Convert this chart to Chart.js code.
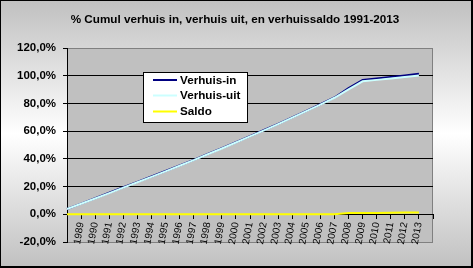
<!DOCTYPE html>
<html>
<head>
<meta charset="utf-8">
<script src="https://cdn.jsdelivr.net/npm/chart.js@4.4.1/dist/chart.umd.min.js"></script>
<style>
  html, body { margin: 0; padding: 0; background: #fff; }
</style>
</head>
<body>
<canvas id="cumulChart" width="473" height="268"></canvas>
<script>
(function () {
  "use strict";

  // categories: first point is the base, last slot is empty
  const categories = ['', '1989', '1990', '1991', '1992', '1993', '1994', '1995', '1996', '1997',
    '1998', '1999', '2000', '2001', '2002', '2003', '2004', '2005', '2006', '2007',
    '2008', '2009', '2010', '2011', '2012', '2013', ''];

  // series values (%)
  const verhuisIn  = [3.8, 7.7, 11.6, 15.6, 19.5, 23.4, 27.3, 31.2, 35.2, 39.3,
    43.5, 47.7, 52.0, 56.4, 60.8, 65.3, 69.9, 74.6, 79.4, 84.3, 91.1, 96.9, 98.0, 99.1, 100.2, 101.4];
  const verhuisUit = [3.8, 7.6, 11.4, 15.3, 19.2, 23.1, 27.0, 31.0, 35.0, 39.1,
    43.3, 47.5, 51.8, 56.2, 60.6, 65.1, 69.7, 74.4, 79.2, 84.1, 90.2, 96.0, 97.0, 98.0, 99.0, 100.2];
  const saldo      = [0.0, 0.0, 0.0, 0.0, 0.0, 0.0, 0.0, 0.0, 0.0, 0.0,
    0.0, 0.0, 0.0, 0.0, 0.0, 0.0, 0.0, 0.0, 0.0, 0.1, 0.9, 0.9, 1.0, 1.1, 1.2, 1.2];

  // y tick range
  const yMin = -20;
  const yMax = 120;
  const yStep = 20;

  const titleText = '% Cumul verhuis in, verhuis uit, en verhuissaldo 1991-2013';
  const fontFamily = '"Liberation Sans", Arial, sans-serif';

  const color_in    = '#000080';
  const color_uit   = '#ccffff';
  const color_saldo = '#ffff00';

  // background, plot area and frame
  const backdrop = {
    id: 'backdrop',
    beforeDraw(chart) {
      const c = chart.ctx;
      const w = chart.width, h = chart.height;
      const a = chart.chartArea;
      c.save();
      const g = c.createLinearGradient(0, 0, 0, h);
      g.addColorStop(0, '#c0c0c0');
      g.addColorStop(0.5, '#ffffff');
      g.addColorStop(1, '#c0c0c0');
      c.fillStyle = g;
      c.fillRect(0, 0, w, h);
      // outer frame
      c.fillStyle = '#000';
      c.fillRect(0, 0, w, 1);
      c.fillRect(0, 0, 1, h);
      c.fillRect(w - 2, 0, 2, h);
      c.fillRect(0, h - 2, w, 2);
      // plot area
      c.fillStyle = '#c0c0c0';
      c.fillRect(a.left, a.top, a.right - a.left, a.bottom - a.top);
      c.strokeStyle = '#808080';
      c.lineWidth = 1;
      c.strokeRect(a.left + 0.5, a.top + 0.5, a.right - a.left - 1, a.bottom - a.top);
      c.restore();
    }
  };

  // title and boxed legend
  const overlay = {
    id: 'overlay',
    afterDraw(chart) {
      const c = chart.ctx;
      c.save();
      c.fillStyle = '#000';
      c.font = 'bold 11.7px ' + fontFamily;
      c.textAlign = 'center';
      c.textBaseline = 'middle';
      c.fillText(titleText, 235, 20);

      // legend box
      const bx = 143, by = 72, bw = 104, bh = 50;
      c.fillStyle = '#fff';
      c.fillRect(bx, by, bw, bh);
      c.strokeStyle = '#000';
      c.lineWidth = 1;
      c.strokeRect(bx + 0.5, by + 0.5, bw, bh);
      const rows = [80, 95.5, 111.5];
      chart.data.datasets.forEach(function (ds, i) {
        c.strokeStyle = ds.borderColor;
        c.lineWidth = 2;
        c.beginPath();
        c.moveTo(153, rows[i]);
        c.lineTo(177, rows[i]);
        c.stroke();
        c.fillStyle = '#000';
        c.textAlign = 'left';
        c.fillText(ds.label, 180, rows[i] + 0.5);
      });
      c.restore();
    }
  };

  const ctx = document.getElementById('cumulChart').getContext('2d');
  new Chart(ctx, {
    type: 'line',
    data: {
      labels: categories,
      datasets: [{
        label: 'Verhuis-in',
        data: verhuisIn,
        borderColor: color_in,
        borderWidth: 2,
        pointRadius: 0,
        tension: 0,
        order: 2
      },
      {
        label: 'Verhuis-uit',
        data: verhuisUit,
        borderColor: color_uit,
        borderWidth: 2,
        pointRadius: 0,
        tension: 0,
        order: 1
      },
      {
        label: 'Saldo',
        data: saldo,
        borderColor: color_saldo,
        borderWidth: 2,
        pointRadius: 0,
        tension: 0,
        order: 0
      }]
    },
    options: {
      responsive: false,
      animation: false,
      events: [],
      layout: {
        padding: { top: 48, right: 40, bottom: 26, left: 0 }
      },
      plugins: {
        legend: { display: false },
        tooltip: { enabled: false },
        title: { display: false }
      },
      scales: {
        x: {
          type: 'category',
          position: { y: 0 },
          offset: false,
          grid: {
            drawOnChartArea: false,
            drawTicks: true,
            tickLength: 4,
            tickColor: '#000'
          },
          border: { color: '#000' },
          ticks: {
            autoSkip: false,
            minRotation: 80,
            maxRotation: 80,
            padding: 3,
            color: '#000',
            font: { family: fontFamily, size: 10 }
          }
        },
        y: {
          min: yMin,
          max: yMax,
          afterFit(scale) { scale.width = 67; },
          grid: {
            color: (c) => (c.tick && (c.tick.value === yMax || c.tick.value === yMin)) ? '#808080' : '#000',
            tickColor: '#000',
            tickLength: 4
          },
          border: { color: '#000' },
          ticks: {
            stepSize: yStep,
            padding: 7,
            color: '#000',
            font: { family: fontFamily, size: 11.5, weight: 'bold' },
            callback: (v) => v.toFixed(1).replace('.', ',') + '%'
          }
        }
      }
    },
    plugins: [backdrop, overlay]
  });
})();
</script>
</body>
</html>
